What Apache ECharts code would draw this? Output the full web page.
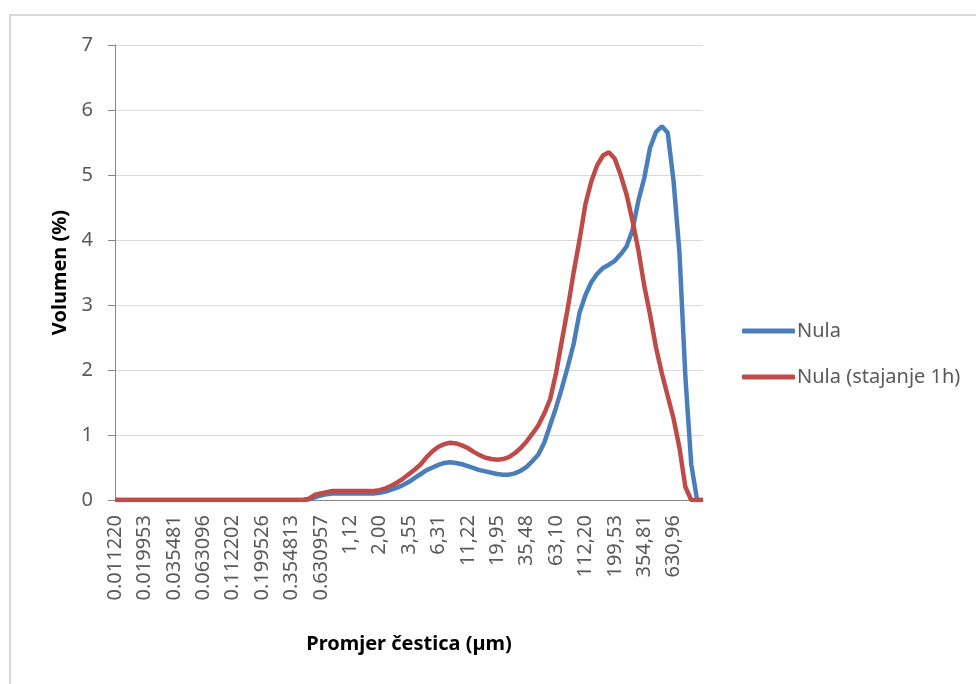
<!DOCTYPE html>
<html>
<head>
<meta charset="utf-8">
<script src="https://cdn.jsdelivr.net/npm/echarts@6/dist/echarts.min.js"></script>
<style>
html,body{margin:0;padding:0;background:#fff;}
#chart{width:976px;height:684px;}
</style>
</head>
<body>
<div id="chart"></div>
<script>
var categories = [
"0.011220","0.012589","0.014125","0.015849","0.017783","0.019953","0.022387","0.025119","0.028184","0.031623",
"0.035481","0.039811","0.044668","0.050119","0.056234","0.063096","0.070795","0.079433","0.089125","0.100000",
"0.112202","0.125893","0.141254","0.158489","0.177828","0.199526","0.223872","0.251189","0.281838","0.316228",
"0.354813","0.398107","0.446684","0.501187","0.562341","0.630957","0.707946","0.794328","0.891251","1,00",
"1,12","1,26","1,41","1,58","1,78","2,00","2,24","2,51","2,82","3,16",
"3,55","3,98","4,47","5,01","5,62","6,31","7,08","7,94","8,91","10,00",
"11,22","12,59","14,13","15,85","17,78","19,95","22,39","25,12","28,18","31,62",
"35,48","39,81","44,67","50,12","56,23","63,10","70,79","79,43","89,13","100,00",
"112,20","125,89","141,25","158,49","177,83","199,53","223,87","251,19","281,84","316,23",
"354,81","398,11","446,68","501,19","562,34","630,96","707,95","794,33","891,25","1000,00",
"1122,02"
];
var nula = [
0,0,0,0,0,0,0,0,0,0,
0,0,0,0,0,0,0,0,0,0,
0,0,0,0,0,0,0,0,0,0,
0,0,0,0.01,0.04,0.07,0.09,0.1,0.1,0.1,
0.1,0.1,0.1,0.1,0.1,0.11,0.13,0.16,0.19,0.23,
0.28,0.34,0.4,0.46,0.5,0.54,0.57,0.58,0.57,0.55,
0.52,0.49,0.46,0.44,0.42,0.4,0.39,0.39,0.41,0.45,
0.51,0.6,0.7,0.88,1.15,1.42,1.72,2.05,2.4,2.88,
3.15,3.35,3.48,3.57,3.62,3.68,3.78,3.9,4.15,4.6,
4.95,5.42,5.66,5.75,5.65,4.9,3.8,1.9,0.55,0,
0
];
var nulaStajanje = [
0,0,0,0,0,0,0,0,0,0,
0,0,0,0,0,0,0,0,0,0,
0,0,0,0,0,0,0,0,0,0,
0,0,0,0.02,0.08,0.1,0.12,0.14,0.14,0.14,
0.14,0.14,0.14,0.14,0.14,0.15,0.18,0.22,0.27,0.33,
0.4,0.47,0.55,0.66,0.75,0.82,0.86,0.88,0.87,0.84,
0.8,0.74,0.69,0.65,0.63,0.62,0.63,0.66,0.72,0.8,
0.9,1.02,1.15,1.33,1.55,1.95,2.45,2.95,3.5,4.0,
4.55,4.9,5.15,5.3,5.35,5.25,5.0,4.7,4.3,3.85,
3.3,2.85,2.35,1.95,1.6,1.25,0.8,0.2,0,0,
0
];
var seriesNames = ["Nula", "Nula (stajanje 1h)"];
var yTicks = [0, 1, 2, 3, 4, 5, 6, 7];

var FONT = "Noto Sans";
var chart = echarts.init(document.getElementById('chart'), null, {renderer: 'canvas'});
chart.setOption({
  animation: false,
  backgroundColor: '#ffffff',
  textStyle: {fontFamily: FONT},
  graphic: [{
    type: 'rect', silent: true,
    shape: {x: 10, y: 15, width: 1100, height: 1000},
    style: {fill: 'none', stroke: '#d9d9d9', lineWidth: 2}
  }],
  grid: {left: 115, right: 273, top: 45, bottom: 184, containLabel: false},
  legend: {
    orient: 'vertical', left: 742, top: 321, padding: 0,
    icon: 'roundRect',
    itemWidth: 53, itemHeight: 5, itemGap: 26,
    textStyle: {color: '#595959', fontSize: 20, lineHeight: 20, fontFamily: FONT, padding: [0,0,0,-3]},
    data: seriesNames
  },
  xAxis: {
    type: 'category', boundaryGap: false, data: categories,
    name: 'Promjer čestica (µm)', nameLocation: 'middle', nameGap: 134,
    nameTextStyle: {color: '#000', fontSize: 20, fontWeight: 'bold', fontFamily: FONT},
    axisLine: {lineStyle: {color: '#868686', width: 1}},
    axisTick: {show: false},
    axisLabel: {interval: 4, rotate: 90, color: '#595959', fontSize: 20, margin: 15, fontFamily: FONT, showMaxLabel: false},
    splitLine: {show: false}
  },
  yAxis: {
    type: 'value', min: yTicks[0], max: yTicks[yTicks.length - 1], interval: 1,
    name: 'Volumen (%)', nameLocation: 'middle', nameGap: 45,
    nameTextStyle: {color: '#000', fontSize: 20, fontWeight: 'bold', fontFamily: FONT},
    axisLine: {show: true, lineStyle: {color: '#868686', width: 1}},
    axisTick: {show: true, length: 7, lineStyle: {color: '#868686'}},
    axisLabel: {color: '#595959', fontSize: 20, margin: 22, fontFamily: FONT},
    splitLine: {show: true, lineStyle: {color: '#d9d9d9', width: 1}}
  },
  series: [
    {name: seriesNames[0], type: 'line', data: nula, symbol: 'none', smooth: false,
     lineStyle: {color: '#4A7EBB', width: 4.5}, itemStyle: {color: '#4A7EBB'}},
    {name: seriesNames[1], type: 'line', data: nulaStajanje, symbol: 'none', smooth: false,
     lineStyle: {color: '#BE4B48', width: 4.5}, itemStyle: {color: '#BE4B48'}}
  ]
});
</script>
</body>
</html>
